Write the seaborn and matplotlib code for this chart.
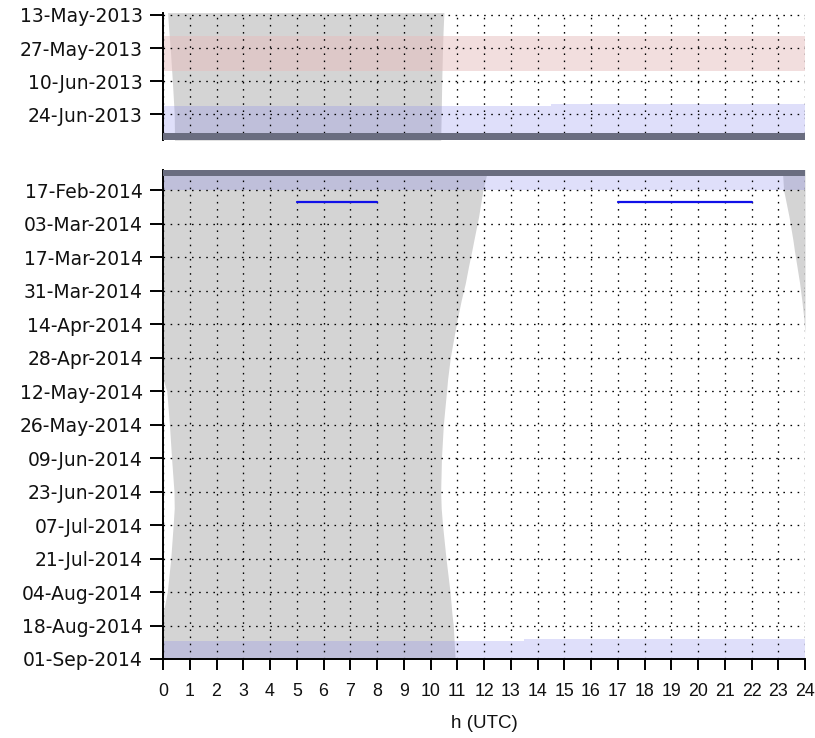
import numpy as np
import pandas as pd
import matplotlib
matplotlib.use("Agg")
import matplotlib.pyplot as plt
import matplotlib.dates as mdates
import seaborn as sns

# ---------------- data ----------------
hour_ticks = list(range(25))

# upper panel (2013)
top_range = ["2013-05-12 07:00", "2013-07-04 22:00"]
top_ticks = ["2013-05-13", "2013-05-27", "2013-06-10", "2013-06-24"]
top_night_dates = ["2013-05-12", "2013-05-20", "2013-05-27", "2013-06-10", "2013-06-24", "2013-07-05"]
top_sunrise = [10.50, 10.47, 10.45, 10.42, 10.40, 10.38]
top_sunset = [24.17, 24.22, 24.27, 24.35, 24.42, 24.43]

# lower panel (2014)
bot_range = ["2014-02-08 10:00", "2014-09-01 00:00"]
bot_ticks = ["2014-02-17", "2014-03-03", "2014-03-17", "2014-03-31", "2014-04-14",
             "2014-04-28", "2014-05-12", "2014-05-26", "2014-06-09", "2014-06-23",
             "2014-07-07", "2014-07-21", "2014-08-04", "2014-08-18", "2014-09-01"]
bot_night_dates = ["2014-02-08", "2014-02-17", "2014-02-28", "2014-03-10", "2014-03-14",
                   "2014-03-21", "2014-03-28", "2014-04-04", "2014-04-11", "2014-04-18",
                   "2014-04-28", "2014-05-07", "2014-05-12", "2014-05-26", "2014-06-09",
                   "2014-06-23", "2014-06-30", "2014-07-07", "2014-07-21", "2014-08-04",
                   "2014-08-13", "2014-08-18", "2014-09-01"]
bot_sunrise = [12.15, 11.96, 11.80, 11.62, 11.55, 11.42, 11.30, 11.15, 11.02, 10.90,
               10.74, 10.64, 10.60, 10.48, 10.41, 10.38, 10.40, 10.45, 10.58, 10.73,
               10.80, 10.85, 10.92]
bot_sunset = [23.15, 23.20, 23.40, 23.55, 23.60, 23.70, 23.80, 23.88, 23.95, 24.00,
              24.00, 24.00, 24.14, 24.24, 24.32, 24.41, 24.42, 24.38, 24.29, 24.16,
              24.00, 24.00, 24.00]

# shaded periods: (start for hours >= split, start for hours < split, split hour, end, kind)
top_periods = [
    ("2013-05-21 22:00", "2013-05-21 22:00", 0.0, "2013-06-05 14:00", "pink"),
    ("2013-06-19 19:00", "2013-06-20 12:00", 14.5, "2013-07-02 03:00", "blue"),
    ("2013-07-02 03:00", "2013-07-02 03:00", 0.0, "2013-07-04 22:00", "dark"),
]
bot_periods = [
    ("2014-02-08 10:00", "2014-02-08 10:00", 0.0, "2014-02-10 22:30", "dark"),
    ("2014-02-10 22:30", "2014-02-10 22:30", 0.0, "2014-02-17 00:00", "blue"),
    ("2014-08-23 14:00", "2014-08-24 12:00", 13.5, "2014-09-01 00:00", "blue"),
]

# observation segments (lower panel)
seg_id = ["a", "a", "b", "b"]
seg_hour = [5.0, 8.0, 17.0, 22.0]
seg_date = ["2014-02-22 05:00", "2014-02-22 05:00", "2014-02-22 05:00", "2014-02-22 05:00"]

# ---------------- styling ----------------
NIGHT = "#d4d4d4"
KIND_STYLE = {
    "pink": dict(color="#e6bebe", alpha=0.5, zorder=1.5),
    "blue": dict(color="#8686ec", alpha=0.26, zorder=1.5),
    "dark": dict(color="#6a6d80", alpha=1.0, zorder=3),
}
FS = 13.5
XFONT = ["Liberation Sans", "DejaVu Sans"]

sns.set_theme(style="white")
plt.rcParams["font.family"] = ["DejaVu Sans"]
plt.rcParams["font.size"] = FS


def dn(s):
    return mdates.date2num(pd.to_datetime(s))


def draw_panel(ax, rng, ticks, nd, sr, ss, periods):
    d = np.array([dn(x) for x in nd])
    sr = np.array(sr)
    ss = np.array(ss)
    ax.fill_betweenx(d, np.maximum(ss - 24, 0), sr, color=NIGHT, lw=0, zorder=1)
    ax.fill_betweenx(d, np.minimum(ss, 24), 24, color=NIGHT, lw=0, zorder=1)
    for start_r, start_l, split, end, kind in periods:
        st = KIND_STYLE[kind]
        if split > 0:
            ax.fill_between([0, split], dn(start_l), dn(end), lw=0, **st)
            ax.fill_between([split, 24], dn(start_r), dn(end), lw=0, **st)
        else:
            ax.fill_between([0, 24], dn(start_r), dn(end), lw=0, **st)
    ax.set_xlim(0, 24)
    ax.set_ylim(dn(rng[1]), dn(rng[0]))
    ax.set_yticks([dn(t) for t in ticks])
    ax.set_yticklabels([pd.to_datetime(t).strftime("%d-%b-%Y") for t in ticks])
    ax.set_xticks(hour_ticks)
    ax.grid(True, color="black", linestyle=(0, (1.2, 4.2)), linewidth=0.95)
    ax.set_axisbelow(False)
    for side in ["top", "right"]:
        ax.spines[side].set_visible(False)
    ax.spines["left"].set_color("black")
    ax.spines["left"].set_linewidth(1.4)
    ax.tick_params(axis="y", left=True, length=9.5, width=1.4, pad=5,
                   color="black", labelsize=FS, labelcolor="#111111")


fig = plt.figure(figsize=(8.15, 7.38), dpi=100)
ax1 = fig.add_axes([163 / 815, 1 - 140 / 738, 642 / 815, 126.7 / 738])
ax2 = fig.add_axes([163 / 815, 1 - 659 / 738, 642 / 815, 489.5 / 738])

draw_panel(ax1, top_range, top_ticks, top_night_dates, top_sunrise, top_sunset, top_periods)
draw_panel(ax2, bot_range, bot_ticks, bot_night_dates, bot_sunrise, bot_sunset, bot_periods)

ax1.spines["bottom"].set_visible(False)
ax1.tick_params(axis="x", bottom=False, labelbottom=False)

segs = pd.DataFrame({"seg": seg_id, "hour": seg_hour,
                     "date": [dn(s) for s in seg_date]})
sns.lineplot(data=segs, x="hour", y="date", units="seg", estimator=None,
             sort=False, color="#1010e8", linewidth=1.6, ax=ax2, zorder=4)
ax2.set_xlim(0, 24)
ax2.set_ylim(dn(bot_range[1]), dn(bot_range[0]))
ax2.set_ylabel("")
ax1.set_xlabel("")
ax1.set_ylabel("")

ax2.spines["bottom"].set_color("black")
ax2.spines["bottom"].set_linewidth(1.4)
ax2.set_xticks(hour_ticks, labels=[str(h) for h in hour_ticks],
               fontfamily=XFONT, fontsize=12.8, color="#111111")
ax2.tick_params(axis="x", bottom=True, length=8, width=1.4, pad=9, color="black")
ax2.set_xlabel("h (UTC)", fontsize=FS, labelpad=11, color="#111111",
               fontfamily=XFONT)

fig.savefig("out.png", dpi=100)
